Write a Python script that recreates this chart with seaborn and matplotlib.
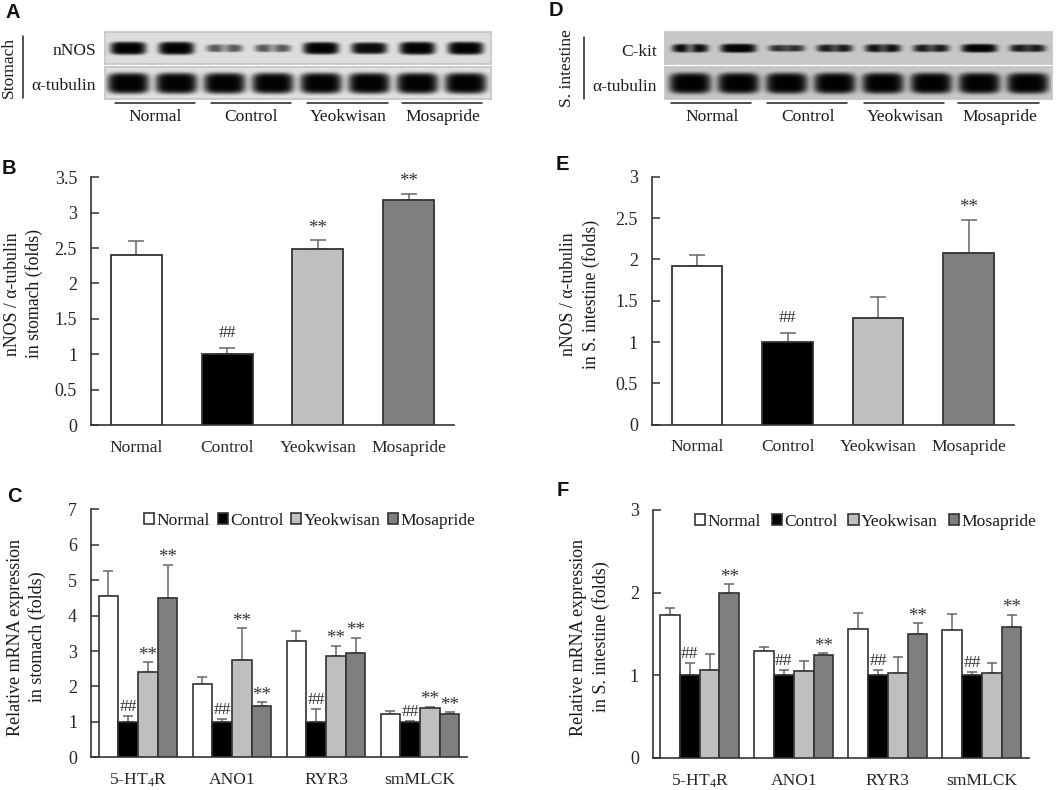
import numpy as np
import pandas as pd
import matplotlib
matplotlib.use("Agg")
import matplotlib.pyplot as plt
import seaborn as sns

W, H = 1059, 790

groups = ["Normal", "Control", "Yeokwisan", "Mosapride"]
genes = ["5-HT$_4$R", "ANO1", "RYR3", "smMLCK"]
palette = ["#ffffff", "#000000", "#bfbfbf", "#7f7f7f"]

# panel B / E
b_vals = [2.40, 1.00, 2.48, 3.18]
b_tops = [2.60, 1.09, 2.61, 3.27]
b_marks = ["", "##", "**", "**"]
e_vals = [1.92, 1.00, 1.29, 2.08]
e_tops = [2.05, 1.11, 1.54, 2.48]
e_marks = ["", "##", "", "**"]

# panel C, one list per group, in gene order
c_normal = [4.56, 2.06, 3.29, 1.22]
c_control = [1.00, 1.00, 1.00, 1.00]
c_yeok = [2.40, 2.76, 2.86, 1.40]
c_mosa = [4.49, 1.45, 2.94, 1.22]
c_normal_top = [5.25, 2.27, 3.57, 1.31]
c_control_top = [1.17, 1.07, 1.36, 1.03]
c_yeok_top = [2.68, 3.64, 3.15, 1.43]
c_mosa_top = [5.43, 1.55, 3.38, 1.27]

# panel F
f_normal = [1.73, 1.29, 1.56, 1.55]
f_control = [1.00, 1.00, 1.00, 1.00]
f_yeok = [1.06, 1.05, 1.03, 1.03]
f_mosa = [1.99, 1.24, 1.50, 1.59]
f_normal_top = [1.82, 1.34, 1.76, 1.74]
f_control_top = [1.15, 1.06, 1.06, 1.04]
f_yeok_top = [1.26, 1.17, 1.22, 1.15]
f_mosa_top = [2.10, 1.27, 1.63, 1.73]

c_marks = [["", "", "", ""], ["##", "##", "##", "##"], ["**", "**", "**", "**"], ["**", "**", "**", "**"]]
f_marks = [["", "", "", ""], ["##", "##", "##", "##"], ["", "", "", ""], ["**", "**", "**", "**"]]

# blot band darkness per lane, and how much each band pinches in the middle
nnos_bands = [1.0, 1.0, 0.6, 0.6, 0.95, 0.9, 1.0, 1.0]
nnos_pinch = [0, 0, 0.5, 0.5, 0, 0, 0, 0]
ckit_bands = [0.95, 1.0, 0.75, 0.85, 0.9, 0.85, 0.95, 0.85]
ckit_pinch = [0.5, 0, 0.2, 0.3, 0.3, 0.3, 0, 0.2]
tubulin_bands = [1.0] * 8
tubulin_pinch = [0] * 8

sns.set_theme(style="ticks")
plt.rcParams["font.family"] = ["Liberation Serif", "DejaVu Serif"]
plt.rcParams["mathtext.default"] = "regular"
plt.rcParams["text.color"] = "#1a1a1a"
FS = 12.6
DARK = "#333333"

fig = plt.figure(figsize=(W / 100, H / 100), dpi=100, facecolor="white")


def px_axes(left, top, right, bottom):
    return fig.add_axes([left / W, 1 - bottom / H, (right - left) / W, (bottom - top) / H])


def txt(x, y, s, **kw):
    kw.setdefault("fontsize", FS)
    kw.setdefault("ha", "center")
    kw.setdefault("va", "center")
    fig.text(x / W, 1 - y / H, s, **kw)


def hline(x0, x1, y0, y1, lw=1.1):
    fig.add_artist(plt.Line2D([x0 / W, x1 / W], [1 - y0 / H, 1 - y1 / H], color="#222222", lw=lw))


def style_axis(ax, yticks, yticklabels, ymax):
    ax.set_ylim(0, ymax)
    ax.set_xlim(-0.5, 3.5)
    ax.set_yticks(yticks)
    ax.set_yticklabels(yticklabels)
    ax.set_xlabel("")
    ax.set_ylabel("")
    ax.patch.set_alpha(0)
    sns.despine(ax=ax)
    for side in ["left", "bottom"]:
        ax.spines[side].set_color(DARK)
        ax.spines[side].set_linewidth(1.2)
    ax.tick_params(axis="y", direction="in", length=5.5, width=1.1, color=DARK, pad=10, labelsize=FS + 0.4)
    ax.tick_params(axis="x", length=0, pad=10.5, labelsize=FS)


def single_panel(box, vals, tops, marks, yticks, yticklabels, ymax):
    ax = px_axes(*box)
    df = pd.DataFrame({"group": groups, "value": vals})
    sns.barplot(data=df, x="group", y="value", hue="group", palette=palette, width=0.56,
                errorbar=None, edgecolor=DARK, linewidth=1.3, legend=False, ax=ax, zorder=3)
    x = np.arange(4)
    ax.errorbar(x, vals, yerr=[np.zeros(4), np.array(tops) - np.array(vals)], fmt="none",
                ecolor="#666666", elinewidth=1.1, capsize=5.5, capthick=1.1, zorder=2)
    for xi, top, m in zip(x, tops, marks):
        if m:
            off = 15 if m == "##" else 12
            ax.annotate(m, (xi, top), xytext=(0, off), textcoords="offset pixels", ha="center",
                        va="center", fontsize=FS + (0 if m == "##" else 1), color="#333333")
    style_axis(ax, yticks, yticklabels, ymax)
    return ax


def grouped_panel(box, series, series_tops, marks, yticks, yticklabels, ymax, legend_x, col_gap):
    ax = px_axes(*box)
    rows = []
    for g, vals in zip(groups, series):
        for gene, v in zip(genes, vals):
            rows.append({"gene": gene, "group": g, "value": v})
    df = pd.DataFrame(rows)
    sns.barplot(data=df, x="gene", y="value", hue="group", hue_order=groups, palette=palette,
                width=0.84, gap=0, errorbar=None, edgecolor=DARK, linewidth=1.2, ax=ax, zorder=3)
    for cont, vals, tops, mk in zip(ax.containers, series, series_tops, marks):
        xs = [p.get_x() + p.get_width() / 2 for p in cont.patches]
        ax.errorbar(xs, vals, yerr=[np.zeros(4), np.array(tops) - np.array(vals)], fmt="none",
                    ecolor="#666666", elinewidth=1.1, capsize=3.5, capthick=1.1, zorder=2)
        for xi, top, m in zip(xs, tops, mk):
            if m:
                off = 9 if m == "##" else 7
                ax.annotate(m, (xi, top), xytext=(0, off), textcoords="offset pixels", ha="center",
                            va="center", fontsize=FS + (0 if m == "##" else 1), color="#333333", zorder=5)
    style_axis(ax, yticks, yticklabels, ymax)
    ax.legend(loc="upper left", bbox_to_anchor=(legend_x, 0.985), ncol=4, frameon=False, fontsize=FS,
              handlelength=0.58, handleheight=0.58, handletextpad=0.15, columnspacing=col_gap,
              borderpad=0, borderaxespad=0)
    return ax


def blot(box, bands, pinch, first_lane, half_w, half_h, bg):
    left, top, right, bottom = box
    ax = px_axes(left, top, right, bottom)
    xx, yy = np.meshgrid(np.arange(left, right, 0.5), np.arange(top, bottom, 0.5))
    cy = (top + bottom) / 2
    img = np.full(xx.shape, bg, dtype=float)
    for i, (b, p) in enumerate(zip(bands, pinch)):
        cx = first_lane + 48.2 * i
        dip = 1 - p * np.exp(-((xx - cx) / (half_w * 0.3)) ** 2)
        r = ((xx - cx) / half_w) ** 4 + ((yy - cy) / (half_h * b)) ** 4
        img = img * (1 - np.clip(b * 1.05, 0, 0.99) * np.exp(-r ** 1.5) * dip)
    ax.imshow(img, cmap="gray", vmin=0, vmax=1, aspect="auto", interpolation="bilinear")
    ax.set_xticks([])
    ax.set_yticks([])
    for s in ax.spines.values():
        s.set_color("#c4c4c4")
        s.set_linewidth(1.2)


# western blots
blot((105, 32, 491, 64), nnos_bands, nnos_pinch, 128, 18, 6.5, 0.87)
blot((105, 67, 491, 99), tubulin_bands, tubulin_pinch, 128, 21, 10.5, 0.88)
blot((665, 32, 1052, 64), ckit_bands, ckit_pinch, 690, 18, 4.5, 0.78)
blot((665, 67, 1052, 99), tubulin_bands, tubulin_pinch, 690, 21, 10.5, 0.78)

for x0, x1 in [(115, 195), (211, 291), (307, 388), (402, 482), (671, 751), (767, 847), (864, 944), (958, 1039)]:
    hline(x0, x1, 103, 103)
hline(23, 23, 36, 98)
hline(584, 584, 37, 99)

for x, g in zip([155, 251, 348, 443], groups):
    txt(x, 117, g)
for x, g in zip([712, 808, 905, 1000], groups):
    txt(x, 117, g)
txt(96, 51, "nNOS", ha="right")
txt(96, 86, "α-tubulin", ha="right")
txt(657, 52, "C-kit", ha="right")
txt(657, 87, "α-tubulin", ha="right")
txt(9, 67, "Stomach", rotation=90)
txt(567, 68, "S. intestine", rotation=90)

# bar panels
ticks_b = [0, 0.5, 1, 1.5, 2, 2.5, 3, 3.5]
labels_b = ["0", "0.5", "1", "1.5", "2", "2.5", "3", "3.5"]
single_panel((91, 177.3, 454, 425), b_vals, b_tops, b_marks, ticks_b, labels_b, 3.5)
single_panel((651.7, 176.7, 1014, 424.7), e_vals, e_tops, e_marks, ticks_b[:7], labels_b[:7], 3)

grouped_panel((91, 509.3, 467, 757.3), [c_normal, c_control, c_yeok, c_mosa],
              [c_normal_top, c_control_top, c_yeok_top, c_mosa_top], c_marks,
              list(range(8)), [str(i) for i in range(8)], 7, 0.141, 0.42)
grouped_panel((652.7, 510, 1029, 758), [f_normal, f_control, f_yeok, f_mosa],
              [f_normal_top, f_control_top, f_yeok_top, f_mosa_top], f_marks,
              [0, 1, 2, 3], ["0", "1", "2", "3"], 3, 0.1125, 0.6)

txt(23.5, 294, "nNOS / α-tubulin\nin stomach (folds)", rotation=90, linespacing=1.32, fontsize=12.8)
txt(580, 294, "nNOS / α-tubulin\nin S. intestine (folds)", rotation=90, linespacing=1.32, fontsize=12.8)
txt(26.5, 637, "Relative mRNA expression\nin stomach (folds)", rotation=90, linespacing=1.35, fontsize=13)
txt(590, 637, "Relative mRNA expression\nin S. intestine (folds)", rotation=90, linespacing=1.35, fontsize=13)

for x, y, s in [(13, 12, "A"), (9, 168, "B"), (14, 497, "C"), (556, 11, "D"), (562, 165, "E"), (563, 490, "F")]:
    txt(x, y, s, fontsize=14.5, fontweight="bold", family=["Liberation Sans", "DejaVu Sans"], color="#111111")

fig.savefig("out.png", dpi=100)
